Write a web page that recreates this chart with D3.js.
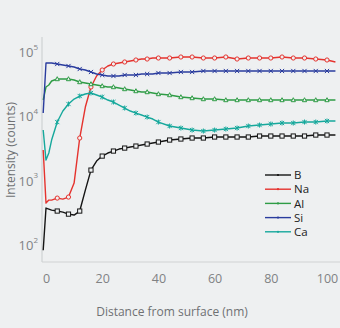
<!DOCTYPE html>
<html>
<head>
<meta charset="utf-8">
<script src="https://cdn.jsdelivr.net/npm/d3@7/dist/d3.min.js"></script>
<style>
  html, body { margin: 0; padding: 0; background: #eef0f1; }
  svg { display: block; }
  text { font-family: "Open Sans", "Noto Sans", sans-serif; }
</style>
</head>
<body>
<svg id="chart" width="340" height="328"></svg>
<script>
// ---- data ----
const distance = [-1, 0, 1, 2, 4, 6, 8, 10, 12, 14, 16, 18, 20, 22, 24, 26, 28, 30, 32, 34, 36, 38, 40,
  44, 48, 52, 56, 60, 64, 68, 72, 76, 80, 84, 88, 92, 96, 100, 103];

const B  = [83, 375, 362, 349, 337, 325, 302, 292, 337, 714, 1460, 2020, 2410, 2690, 2885, 3100, 3210, 3330, 3450, 3580, 3710, 3845, 3985,
  4280, 4440, 4600, 4600, 4770, 4770, 4770, 4770, 4940, 4940, 4940, 4940, 4940, 5120, 5120, 5120];
const Na = [2990, 448, 499, 499, 536, 517, 556, 918, 4600, 13950, 28560, 42350, 52500, 60580, 65080, 67450, 69900, 72450, 75100, 77800, 77800, 80650, 80650,
  80650, 83600, 83600, 80650, 80650, 83600, 77800, 80650, 80650, 80650, 83600, 80650, 80650, 77800, 75100, 69900];
const Al = [17930, 28560, 30680, 35400, 38030, 38030, 38030, 36690, 34160, 32950, 31800, 30680, 29600, 28560, 28560, 27550, 26580, 25650, 24740, 23870, 23870, 23040, 22230,
  21440, 19960, 19260, 18580, 18580, 17930, 17930, 17930, 17930, 17930, 17930, 17930, 17930, 17930, 17930, 17930];
const Si = [11250, 67450, 67450, 67450, 65080, 62790, 60580, 58450, 54400, 52500, 48870, 45490, 43890, 42350, 42350, 42350, 43890, 43890, 43890, 45490, 45490, 45490, 47150,
  47150, 48870, 48870, 50650, 50650, 50650, 50650, 50650, 50650, 50650, 50650, 50650, 50650, 50650, 50650, 50650];
const Ca = [6120, 2090, 2690, 4280, 8150, 12090, 15540, 18580, 20690, 22230, 23040, 21440, 19960, 17930, 16690, 14990, 13460, 12090, 11250, 10480, 9750, 9080, 8150,
  7070, 6580, 6120, 5910, 6120, 6350, 6580, 7070, 7320, 7590, 7870, 7870, 8150, 8150, 8450, 8450];

const seriesNames = ["B", "Na", "Al", "Si", "Ca"];
const seriesValues = [B, Na, Al, Si, Ca];
const seriesColors = ["#151515", "#e5332e", "#2e9c45", "#2a3c9e", "#16a89c"];
const seriesMarkers = ["square", "circle", "triangle", "cross", "star"];

const xTicks = [0, 20, 40, 60, 80, 100];
const yTicks = [1e2, 1e3, 1e4, 1e5];

// ---- layout ----
const W = 340, H = 328;
const plot = { left: 42, right: 340, top: 37, bottom: 262 };
const bg = "#eef0f1";

const svg = d3.select("#chart");
svg.append("rect").attr("width", W).attr("height", H).attr("fill", bg);

const x = d3.scaleLinear().domain([0, 100]).range([46, 327]);
const y = d3.scaleLog().domain([1e2, 1e5]).range([245, 52]);

// axis lines
svg.append("line").attr("x1", plot.left).attr("x2", plot.left)
  .attr("y1", plot.top).attr("y2", plot.bottom)
  .attr("stroke", "#cfd2d4").attr("stroke-width", 1.2);
svg.append("line").attr("x1", plot.left).attr("x2", plot.right)
  .attr("y1", plot.bottom).attr("y2", plot.bottom)
  .attr("stroke", "#cfd2d4").attr("stroke-width", 1.2);

// x tick labels via axis
const xAxis = d3.axisBottom(x).tickValues(xTicks).tickSize(0).tickPadding(0);
const gx = svg.append("g").attr("transform", `translate(0, 274)`).call(xAxis);
gx.select(".domain").remove();
gx.selectAll("text").attr("fill", "#808284").attr("font-size", 12.5)
  .attr("font-family", "'Open Sans', sans-serif").attr("dy", "0.71em");

// y tick labels (10 with superscript exponent)
const yLab = svg.append("g");
yTicks.forEach(v => {
  const exp = Math.round(Math.log10(v));
  const t = yLab.append("text")
    .attr("x", 38).attr("y", y(v)).attr("dy", "0.38em")
    .attr("text-anchor", "end").attr("fill", "#808284").attr("font-size", 13);
  t.append("tspan").text("10");
  t.append("tspan").attr("font-size", 8).attr("dy", "-0.9em").text(String(exp));
});

// axis titles
svg.append("text")
  .attr("x", 172).attr("y", 316).attr("text-anchor", "middle")
  .attr("fill", "#6f7173").attr("font-size", 12).text("Distance from surface (nm)");
svg.append("text")
  .attr("transform", "translate(15,150) rotate(-90)")
  .attr("text-anchor", "middle").attr("fill", "#6f7173").attr("font-size", 12)
  .text("Intensity (counts)");

// marker drawing
function drawMarker(g, type, cx, cy, color, s) {
  if (type === "square") {
    g.append("rect").attr("x", cx - s).attr("y", cy - s).attr("width", 2 * s).attr("height", 2 * s)
      .attr("fill", bg).attr("stroke", color).attr("stroke-width", 1);
  } else if (type === "circle") {
    g.append("circle").attr("cx", cx).attr("cy", cy).attr("r", s)
      .attr("fill", bg).attr("stroke", color).attr("stroke-width", 1);
  } else if (type === "triangle") {
    const p = [[cx, cy - s * 1.1], [cx - s, cy + s * 0.8], [cx + s, cy + s * 0.8]];
    g.append("path").attr("d", "M" + p.map(q => q.join(",")).join("L") + "Z")
      .attr("fill", bg).attr("stroke", color).attr("stroke-width", 1);
  } else if (type === "cross") {
    g.append("path").attr("d", `M${cx - s},${cy - s}L${cx + s},${cy + s}M${cx - s},${cy + s}L${cx + s},${cy - s}`)
      .attr("stroke", color).attr("stroke-width", 1);
  } else if (type === "star") {
    g.append("path").attr("d", `M${cx - s},${cy - s}L${cx + s},${cy + s}M${cx - s},${cy + s}L${cx + s},${cy - s}M${cx},${cy - s * 1.2}L${cx},${cy + s * 1.2}`)
      .attr("stroke", color).attr("stroke-width", 1);
  }
}

const line = d3.line().x(d => x(d[0])).y(d => y(d[1]));

seriesNames.forEach((name, i) => {
  const pts = distance.map((d, j) => [d, seriesValues[i][j]]);
  const g = svg.append("g");
  g.append("path").datum(pts).attr("d", line)
    .attr("fill", "none").attr("stroke", seriesColors[i]).attr("stroke-width", 1.4)
    .attr("stroke-linejoin", "round");
  pts.forEach(p => {
    if (p[0] >= 4 && p[0] % 4 === 0) drawMarker(g, seriesMarkers[i], x(p[0]), y(p[1]), seriesColors[i], 2.1);
  });
});

// legend
const leg = svg.append("g");
seriesNames.forEach((name, i) => {
  const ly = 175 + i * 14.2;
  leg.append("line").attr("x1", 265).attr("x2", 291).attr("y1", ly).attr("y2", ly)
    .attr("stroke", seriesColors[i]).attr("stroke-width", 1.4);
  leg.append("circle").attr("cx", 278).attr("cy", ly).attr("r", 1.1).attr("fill", seriesColors[i]);
  leg.append("text").attr("x", 294).attr("y", ly).attr("dy", "0.36em")
    .attr("fill", "#222").attr("font-size", 11.5).text(name);
});
</script>
</body>
</html>
